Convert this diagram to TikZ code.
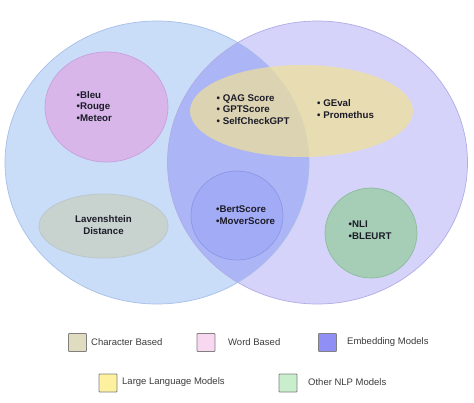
\documentclass[tikz,border=0pt]{standalone}
\usepackage{fontspec}
\setmainfont{Liberation Sans}
\usetikzlibrary{shapes.geometric}
\definecolor{leftfill}{RGB}{201,220,248}
\definecolor{leftline}{RGB}{168,192,232}
\definecolor{rightfill}{RGB}{214,211,250}
\definecolor{rightline}{RGB}{176,172,230}
\definecolor{overfill}{RGB}{172,181,245}
\definecolor{pinkfill}{RGB}{216,182,234}
\definecolor{pinkline}{RGB}{200,160,222}
\definecolor{greyfill}{RGB}{200,210,207}
\definecolor{greyline}{RGB}{186,198,200}
\definecolor{bertfill}{RGB}{162,171,245}
\definecolor{bertline}{RGB}{140,152,230}
\definecolor{greenfill}{RGB}{166,205,181}
\definecolor{greenline}{RGB}{140,188,158}
\definecolor{llmfill}{RGB}{240,225,150}
\definecolor{txt}{RGB}{28,28,40}
\definecolor{legtxt}{RGB}{60,60,60}
\definecolor{lg1}{RGB}{224,220,192}
\definecolor{lg2}{RGB}{247,216,240}
\definecolor{lg3}{RGB}{143,143,245}
\definecolor{lg4}{RGB}{253,241,160}
\definecolor{lg5}{RGB}{200,238,203}
\tikzset{
  blob/.style={ellipse, inner sep=0pt, line width=0.7pt},
  itemtext/.style={text=txt, font=\bfseries\fontsize{9.7}{11.5}\selectfont, align=left, anchor=west, inner sep=0pt},
  legbox/.style={draw=black!50, line width=0.8pt, minimum width=18pt, minimum height=18pt, inner sep=0pt, rounded corners=0.8pt},
  legtext/.style={text=legtxt, font=\fontsize{9.5}{11}\selectfont, anchor=west, inner sep=0pt},
}
\begin{document}
\begin{tikzpicture}[x=1pt,y=-1pt]
\useasboundingbox (0,0) rectangle (474,402);
\fill[white] (0,0) rectangle (474,402);
% big circles
\node[blob, fill=leftfill, minimum width=304pt, minimum height=283pt] (left) at (157,162.5) {};
\node[blob, fill=rightfill, minimum width=300pt, minimum height=283pt] (right) at (317.5,162.5) {};
\begin{scope}
  \clip (157,162.5) ellipse [x radius=152, y radius=141.5];
  \fill[overfill] (317.5,162.5) ellipse [x radius=150, y radius=141.5];
\end{scope}
\draw[leftline, line width=0.7pt] (157,162.5) ellipse [x radius=152, y radius=141.5];
\draw[rightline, line width=0.7pt] (317.5,162.5) ellipse [x radius=150, y radius=141.5];
% inner shapes
\node[blob, fill=pinkfill, draw=pinkline, minimum width=123pt, minimum height=110pt] (word) at (106.5,107) {};
\node[blob, fill=greyfill, draw=greyline, minimum width=129pt, minimum height=64pt] (char) at (103.5,226) {};
\node[blob, fill=bertfill, draw=bertline, minimum width=92pt, minimum height=89pt] (emb) at (237,215.5) {};
\node[blob, fill=greenfill, draw=greenline, minimum width=92pt, minimum height=90pt] (nlp) at (371,233) {};
\node[blob, fill=llmfill, fill opacity=0.7, minimum width=223pt, minimum height=92pt] (llm) at (301.5,111) {};
% texts
\node[itemtext] (t1) at (76.5,106.5) {•Bleu\\•Rouge\\•Meteor};
\node[itemtext] (t2) at (216.5,109.5) {• QAG Score\\• GPTScore\\• SelfCheckGPT};
\node[itemtext] (t3) at (317,109) {• GEval\\• Promethus};
\node[itemtext] (t4) at (216,215) {•BertScore\\•MoverScore};
\node[itemtext] (t5) at (348.5,230) {•NLI\\•BLEURT};
\node[itemtext, align=center, anchor=center] (t6) at (103.5,225) {Lavenshtein\\Distance};
% legend
\node[legbox, fill=lg1] (b1) at (77.5,342.5) {};
\node[legtext] (l1) at (91,342) {Character Based};
\node[legbox, fill=lg2] (b2) at (206,342.5) {};
\node[legtext] (l2) at (228,342) {Word Based};
\node[legbox, fill=lg3] (b3) at (327.5,342.5) {};
\node[legtext] (l3) at (347,342) {Embedding Models};
\node[legbox, fill=lg4] (b4) at (108,383) {};
\node[legtext] (l4) at (122,382) {Large Language Models};
\node[legbox, fill=lg5] (b5) at (288,383) {};
\node[legtext] (l5) at (308,382) {Other NLP Models};
\end{tikzpicture}
\end{document}
